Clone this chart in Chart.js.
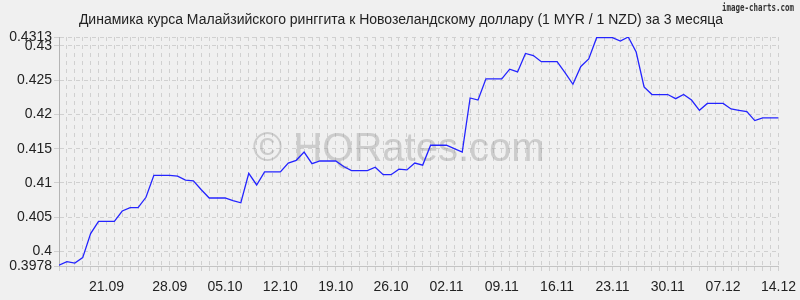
<!DOCTYPE html>
<html>
<head>
<meta charset="utf-8">
<script src="https://cdn.jsdelivr.net/npm/chart.js@4/dist/chart.umd.min.js"></script>
<style>
html,body{margin:0;padding:0;background:#f0f0f0;}
#wrap{width:800px;height:300px;}
</style>
</head>
<body>
<div id="wrap"><canvas id="c" width="800" height="300"></canvas></div>
<script>
const titleText = "Динамика курса Малайзийского ринггита к Новозеландскому доллару (1 MYR / 1 NZD) за 3 месяца";
const watermarkText = "© HQRates.com";
const creditText = "image-charts.com";

// daily values, 14.09 .. 14.12
const values = [
  0.3980, 0.3985, 0.3983, 0.3991, 0.4026, 0.4044, 0.4044, 0.4044, 0.4059, 0.4064,
  0.4064, 0.4079, 0.4111, 0.4111, 0.4111, 0.4110, 0.4104, 0.4103, 0.4090, 0.4078,
  0.4078, 0.4078, 0.4074, 0.4071, 0.4114, 0.4097, 0.4116, 0.4116, 0.4116, 0.4129,
  0.4133, 0.4145, 0.4128, 0.4132, 0.4132, 0.4132, 0.4124, 0.4118, 0.4118, 0.4118,
  0.4123, 0.4112, 0.4112, 0.4120, 0.4119, 0.4129, 0.4126, 0.4155, 0.4155, 0.4155,
  0.4150, 0.4145, 0.4224, 0.4221, 0.4252, 0.4252, 0.4252, 0.4266, 0.4262, 0.4289,
  0.4286, 0.4277, 0.4277, 0.4277, 0.4261, 0.4244, 0.4270, 0.4281, 0.4312, 0.4312,
  0.4312, 0.4307, 0.4313, 0.4291, 0.4240, 0.4229, 0.4229, 0.4229, 0.4223, 0.4229,
  0.4221, 0.4206, 0.4216, 0.4216, 0.4216, 0.4208, 0.4206, 0.4204, 0.4191, 0.4195,
  0.4195, 0.4195
];
const xTickLabels = ["21.09","28.09","05.10","12.10","19.10","26.10","02.11","09.11","16.11","23.11","30.11","07.12","14.12"];
const xTickPositions = [6, 14, 21, 28, 35, 42, 49, 56, 63, 70, 77, 84, 91];
const yTicks = [0.3978, 0.4, 0.405, 0.41, 0.415, 0.42, 0.425, 0.43, 0.4313];
const yMin = 0.3978, yMax = 0.4313;

const points = values.map((v, i) => ({x: i, y: v}));
const labelMap = {};
xTickPositions.forEach((p, i) => { labelMap[p] = xTickLabels[i]; });

const FONT = "'Liberation Sans', Arial, sans-serif";

const decor = {
  id: 'decor',
  beforeDraw(chart) {
    const ctx = chart.ctx;
    ctx.save();
    ctx.fillStyle = '#f0f0f0';
    ctx.fillRect(0, 0, chart.width, chart.height);
    ctx.restore();
  },
  beforeDatasetsDraw(chart) {
    const ctx = chart.ctx;
    const a = chart.chartArea;
    ctx.save();
    ctx.font = "40px " + FONT;
    ctx.fillStyle = 'rgba(150,150,150,0.4)';
    ctx.textAlign = 'center';
    ctx.textBaseline = 'alphabetic';
    ctx.fillText(watermarkText, (a.left + a.right) / 2 - 20, 161);
    ctx.restore();
  },
  afterDraw(chart) {
    const ctx = chart.ctx;
    ctx.save();
    ctx.font = "14px " + FONT;
    ctx.fillStyle = '#222';
    ctx.textAlign = 'center';
    ctx.textBaseline = 'alphabetic';
    ctx.fillText(titleText, 401, 24);
    ctx.font = "bold 11px 'DejaVu Sans Mono', monospace";
    ctx.fillStyle = '#333';
    ctx.textAlign = 'right';
    ctx.fillText(creditText, 794, 11, 72);
    ctx.restore();
  }
};

new Chart(document.getElementById('c'), {
  type: 'line',
  data: {
    datasets: [{
      data: points,
      borderColor: '#2424ff',
      borderWidth: 1.3,
      pointRadius: 0,
      tension: 0,
      fill: false
    }]
  },
  options: {
    responsive: false,
    animation: false,
    devicePixelRatio: 1,
    layout: { padding: { top: 37, right: 21, left: 0, bottom: 0 } },
    plugins: { legend: { display: false }, title: { display: false }, tooltip: { enabled: false } },
    scales: {
      x: {
        type: 'linear',
        min: 0,
        max: values.length - 1,
        afterBuildTicks(scale) {
          scale.ticks = values.map((v, i) => ({ value: i }));
        },
        afterFit(scale) { scale.height = 33.5; },
        border: { display: true, color: '#c4c4c4', width: 1, dash: [4, 4] },
        grid: {
          color: '#d0d0d0',
          lineWidth: 1,
          drawTicks: true,
          tickLength: 8,
          tickBorderDash: [4, 4],
          tickColor: '#d0d0d0'
        },
        ticks: {
          autoSkip: false,
          maxRotation: 0,
          minRotation: 0,
          padding: 4,
          color: '#222',
          font: { family: FONT, size: 14 },
          callback(value) { return labelMap[value] || ''; }
        }
      },
      y: {
        type: 'linear',
        min: yMin,
        max: yMax,
        afterBuildTicks(scale) {
          scale.ticks = yTicks.map(v => ({ value: v }));
        },
        afterFit(scale) { scale.width = 59; },
        border: { display: true, color: '#b4b4b4', width: 1, dash: [4, 4] },
        grid: {
          color: '#d0d0d0',
          lineWidth: 1,
          drawTicks: true,
          tickLength: 5,
          tickColor: '#d0d0d0'
        },
        ticks: {
          autoSkip: false,
          padding: 2,
          color: '#222',
          font: { family: FONT, size: 14 },
          callback(value) { return String(value); }
        }
      }
    }
  },
  plugins: [decor]
});
</script>
</body>
</html>
